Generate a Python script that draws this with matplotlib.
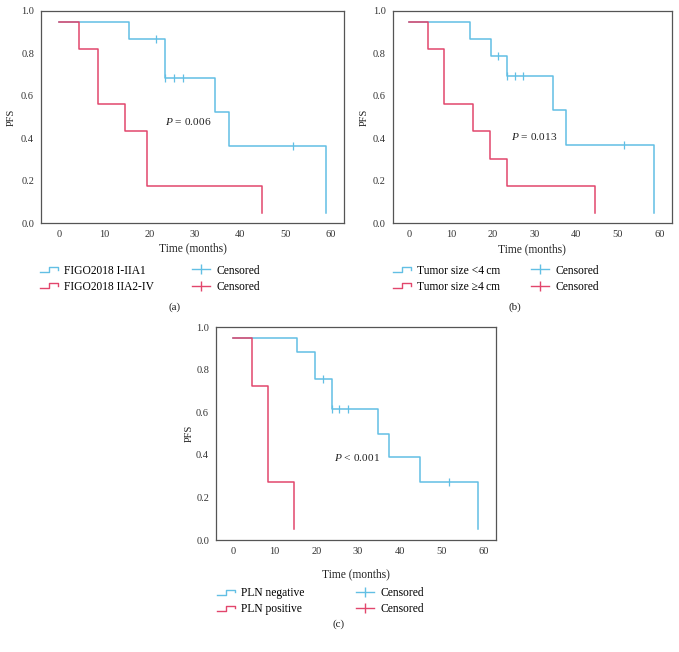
import numpy as np
import matplotlib
matplotlib.use("Agg")
import matplotlib.pyplot as plt
from matplotlib.lines import Line2D
from matplotlib.legend_handler import HandlerBase

plt.rcParams['font.family'] = ['Liberation Serif', 'DejaVu Serif']
plt.rcParams['mathtext.fontset'] = 'custom'
plt.rcParams['mathtext.rm'] = 'Liberation Serif'
plt.rcParams['mathtext.it'] = 'Liberation Serif:italic'

BLUE = '#62bfe4'
RED = '#e2466c'

# (a) FIGO stage
a_t1 = [0, 15.5, 23.5, 34.5, 37.5, 59.0]
a_s1 = [0.95, 0.87, 0.685, 0.525, 0.365, 0.05]
a_c1 = [21.5, 23.5, 25.5, 27.5, 51.8]
a_t2 = [0, 4.5, 8.5, 14.6, 19.5, 44.8]
a_s2 = [0.95, 0.82, 0.563, 0.435, 0.177, 0.05]
a_c2 = []
a_labels = ['FIGO2018 I-IIA1', 'FIGO2018 IIA2-IV']
a_p = '$P$ = 0.006'

# (b) tumor size
b_t1 = [0, 14.5, 19.5, 23.4, 34.4, 37.5, 58.7]
b_s1 = [0.95, 0.868, 0.787, 0.695, 0.533, 0.37, 0.05]
b_c1 = [21.4, 23.4, 25.4, 27.4, 51.6]
b_t2 = [0, 4.4, 8.4, 15.4, 19.4, 23.4, 44.6]
b_s2 = [0.95, 0.821, 0.563, 0.434, 0.303, 0.177, 0.05]
b_c2 = []
b_labels = ['Tumor size <4\u2009cm', 'Tumor size \u22654\u2009cm']
b_p = '$P$ = 0.013'

# (c) pelvic lymph nodes
c_t1 = [0, 15.5, 19.6, 23.7, 34.7, 37.5, 44.7, 58.7]
c_s1 = [0.95, 0.885, 0.755, 0.614, 0.50, 0.39, 0.275, 0.05]
c_c1 = [21.5, 23.7, 25.5, 27.7, 51.7]
c_t2 = [0, 4.5, 8.5, 14.6]
c_s2 = [0.95, 0.724, 0.273, 0.05]
c_c2 = []
c_labels = ['PLN negative', 'PLN positive']
c_p = '$P$ < 0.001'

xticks = [0, 10, 20, 30, 40, 50, 60]
yticks = [0.0, 0.2, 0.4, 0.6, 0.8, 1.0]

W, H = 679, 652
fig = plt.figure(figsize=(W / 100, H / 100), dpi=100)


def fpx(x, y):
    return (x / W, 1 - y / H)


def ax_at(l, t, r, b):
    return fig.add_axes([l / W, 1 - b / H, (r - l) / W, (b - t) / H])


class StepHandler(HandlerBase):
    def create_artists(self, legend, orig_handle, xdescent, ydescent,
                       width, height, fontsize, trans):
        x0, y0 = -xdescent, -ydescent
        xs = [x0, x0 + 0.5 * width, x0 + 0.5 * width, x0 + width, x0 + width]
        ys = [y0 + 0.15 * height, y0 + 0.15 * height, y0 + 0.8 * height,
              y0 + 0.8 * height, y0 + 0.45 * height]
        ln = Line2D(xs, ys, color=orig_handle.get_color(),
                    lw=orig_handle.get_linewidth(), transform=trans)
        return [ln]


def km_panel(ax, t1, s1, c1, t2, s2, c2, labels, ptxt, pxy,
             leg1, leg2, xlabpad, ylabpad):
    for t, s, c, col in [(t1, s1, c1, BLUE), (t2, s2, c2, RED)]:
        ax.step(t, s, where='post', color=col, lw=1.1)
        if len(c):
            idx = np.searchsorted(t, c, side='right') - 1
            ax.plot(c, np.array(s)[idx], ls='none', marker='|', ms=6,
                    mew=0.9, color=col)
    ax.set_xlim(-4, 63)
    ax.set_ylim(0, 1.0)
    ax.set_xticks(xticks)
    ax.set_yticks(yticks)
    ax.set_yticklabels(['%.1f' % v for v in yticks])
    ax.tick_params(length=0, labelsize=7.5, colors='#333333', pad=5)
    for sp in ax.spines.values():
        sp.set_color('#555555')
        sp.set_linewidth(0.9)
    ax.set_xlabel('Time (months)', fontsize=8.3, color='#222222', labelpad=xlabpad)
    ax.set_ylabel('PFS', fontsize=7.5, color='#222222', labelpad=ylabpad)
    ax.text(pxy[0], pxy[1], ptxt, fontsize=8.2, color='#222222', va='center')

    h1 = [Line2D([], [], color=BLUE, lw=1.0), Line2D([], [], color=RED, lw=1.0)]
    lg1 = ax.legend(h1, labels, loc='upper left', bbox_to_anchor=fpx(*leg1),
                    bbox_transform=fig.transFigure, frameon=False, fontsize=8.3,
                    handlelength=1.6, handletextpad=0.5, labelspacing=0.35,
                    borderpad=0, borderaxespad=0,
                    handler_map={Line2D: StepHandler()})
    ax.add_artist(lg1)
    h2 = [Line2D([], [], color=BLUE, lw=1.0, marker='|', ms=6.5, mew=1.0),
          Line2D([], [], color=RED, lw=1.0, marker='|', ms=6.5, mew=1.0)]
    ax.legend(h2, ['Censored', 'Censored'], loc='upper left',
              bbox_to_anchor=fpx(*leg2), bbox_transform=fig.transFigure,
              frameon=False, fontsize=8.3, handlelength=1.6, handletextpad=0.55,
              labelspacing=0.35, borderpad=0, borderaxespad=0)


axa = ax_at(41, 11, 344, 223.3)
km_panel(axa, a_t1, a_s1, a_c1, a_t2, a_s2, a_c2, a_labels, a_p, (23.5, 0.478),
         (40, 264.5), (192, 264.5), 2, 4)
fig.text(*fpx(175, 307), '(a)', fontsize=8, ha='center', va='center', color='#222222')

axb = ax_at(392.7, 11, 671.7, 223.3)
km_panel(axb, b_t1, b_s1, b_c1, b_t2, b_s2, b_c2, b_labels, b_p, (24.4, 0.41),
         (392.7, 264.5), (530.7, 264.5), 3, 3)
fig.text(*fpx(515, 307), '(b)', fontsize=8, ha='center', va='center', color='#222222')

axc = ax_at(216, 327.3, 496, 540)
km_panel(axc, c_t1, c_s1, c_c1, c_t2, c_s2, c_c2, c_labels, c_p, (24.2, 0.387),
         (216.7, 587), (356, 587), 9, 2)
fig.text(*fpx(339, 624), '(c)', fontsize=8, ha='center', va='center', color='#222222')

fig.savefig('out.png', dpi=100)
